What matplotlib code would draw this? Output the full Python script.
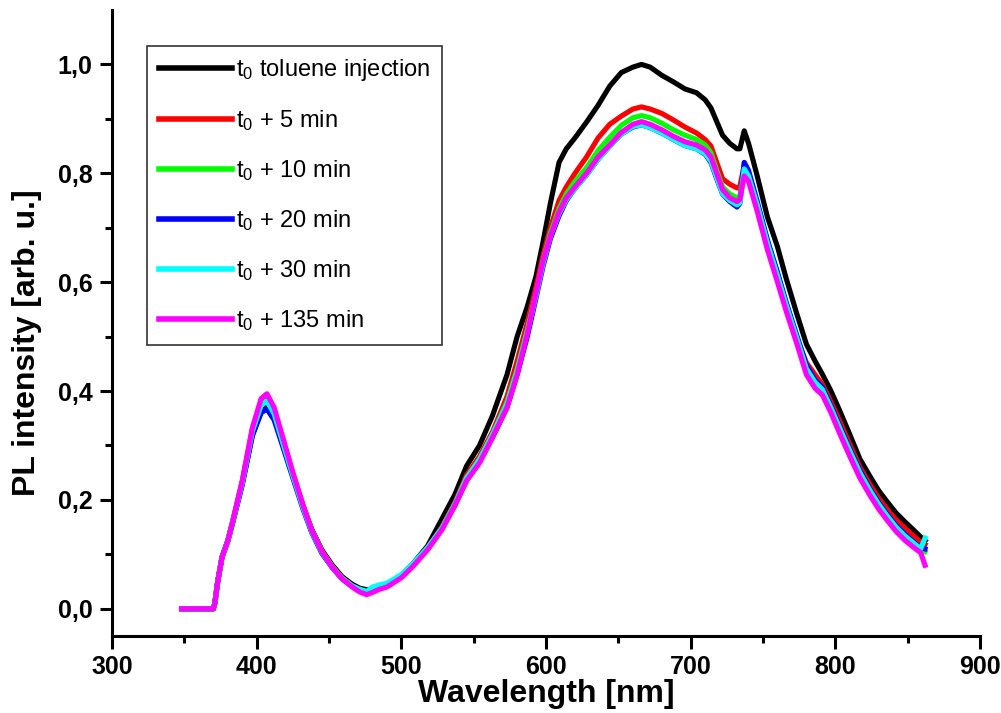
import numpy as np
import matplotlib
matplotlib.use('Agg')
import matplotlib.pyplot as plt

plt.rcParams['font.family'] = ['Liberation Sans', 'DejaVu Sans']
plt.rcParams['mathtext.default'] = 'regular'

# длины волн, нм
wl = [348, 370, 371, 373, 376, 380, 383, 390, 397, 403,
      407, 412, 418, 425, 432, 438, 445, 452, 459, 466,
      471, 476, 480, 485, 490, 500, 508, 518, 528, 537,
      545, 554, 563, 573, 580, 587, 593, 598, 603, 609,
      614, 620, 628, 636, 644, 652, 660, 666, 672, 680,
      688, 696, 704, 710, 714, 718, 722, 727, 732, 734,
      737, 740, 746, 753, 760, 766, 773, 780, 786, 791,
      797, 803, 810, 817, 824, 830, 836, 842, 848, 854,
      859, 862]

# t0 toluene injection
pl_t0 = [0, 0, 0.01, 0.05, 0.095, 0.125, 0.155, 0.23, 0.32, 0.362,
         0.37, 0.352, 0.305, 0.245, 0.188, 0.146, 0.108, 0.081, 0.059, 0.045,
         0.038, 0.035, 0.036, 0.04, 0.045, 0.062, 0.083, 0.115, 0.165, 0.21,
         0.262, 0.30, 0.355, 0.43, 0.50, 0.555, 0.61, 0.675, 0.745, 0.82,
         0.845, 0.865, 0.894, 0.925, 0.96, 0.985, 0.995, 1.0, 0.995, 0.98,
         0.968, 0.955, 0.948, 0.935, 0.92, 0.895, 0.87, 0.855, 0.845, 0.845,
         0.878, 0.855, 0.795, 0.72, 0.665, 0.607, 0.545, 0.486, 0.455, 0.431,
         0.40, 0.364, 0.32, 0.275, 0.243, 0.217, 0.196, 0.176, 0.16, 0.145,
         0.132, 0.125]

# t0 + 5 min
pl_5 = [0, 0, 0.01, 0.05, 0.095, 0.125, 0.156, 0.234, 0.33, 0.378,
        0.386, 0.362, 0.31, 0.248, 0.19, 0.145, 0.106, 0.079, 0.057, 0.042,
        0.034, 0.03, 0.033, 0.038, 0.042, 0.06, 0.08, 0.111, 0.15, 0.195,
        0.245, 0.28, 0.325, 0.39, 0.455, 0.525, 0.59, 0.65, 0.70, 0.75,
        0.775, 0.80, 0.83, 0.865, 0.89, 0.905, 0.918, 0.922, 0.918, 0.91,
        0.898, 0.885, 0.874, 0.862, 0.85, 0.82, 0.79, 0.78, 0.773, 0.776,
        0.815, 0.80, 0.742, 0.675, 0.615, 0.56, 0.50, 0.452, 0.43, 0.412,
        0.38, 0.345, 0.302, 0.26, 0.228, 0.203, 0.182, 0.163, 0.148, 0.134,
        0.122, 0.118]

# t0 + 10 min
pl_10 = [0, 0, 0.01, 0.05, 0.095, 0.125, 0.156, 0.233, 0.328, 0.375,
         0.382, 0.358, 0.306, 0.245, 0.188, 0.144, 0.105, 0.078, 0.056, 0.041,
         0.033, 0.029, 0.033, 0.039, 0.043, 0.06, 0.08, 0.11, 0.148, 0.193,
         0.24, 0.275, 0.32, 0.38, 0.44, 0.512, 0.578, 0.64, 0.69, 0.735,
         0.762, 0.785, 0.81, 0.842, 0.866, 0.888, 0.902, 0.906, 0.902, 0.892,
         0.88, 0.87, 0.862, 0.852, 0.838, 0.805, 0.775, 0.762, 0.755, 0.758,
         0.805, 0.79, 0.735, 0.665, 0.605, 0.552, 0.495, 0.437, 0.412, 0.40,
         0.368, 0.33, 0.288, 0.248, 0.215, 0.19, 0.168, 0.148, 0.132, 0.119,
         0.109, 0.105]

# t0 + 20 min
pl_20 = [0, 0, 0.01, 0.05, 0.095, 0.125, 0.155, 0.228, 0.318, 0.36,
         0.367, 0.347, 0.298, 0.24, 0.183, 0.14, 0.102, 0.076, 0.055, 0.041,
         0.033, 0.028, 0.032, 0.038, 0.043, 0.06, 0.08, 0.11, 0.147, 0.19,
         0.236, 0.27, 0.315, 0.37, 0.43, 0.50, 0.57, 0.63, 0.68, 0.722,
         0.75, 0.772, 0.797, 0.826, 0.85, 0.872, 0.885, 0.889, 0.884, 0.874,
         0.862, 0.851, 0.845, 0.835, 0.82, 0.79, 0.762, 0.748, 0.738, 0.745,
         0.82, 0.805, 0.748, 0.678, 0.618, 0.563, 0.505, 0.447, 0.42, 0.407,
         0.373, 0.336, 0.294, 0.254, 0.22, 0.195, 0.173, 0.153, 0.137, 0.123,
         0.112, 0.11]

# t0 + 30 min
pl_30 = [0, 0, 0.01, 0.05, 0.095, 0.125, 0.156, 0.232, 0.326, 0.374,
         0.382, 0.358, 0.305, 0.244, 0.186, 0.142, 0.104, 0.077, 0.056, 0.042,
         0.036, 0.032, 0.04, 0.044, 0.047, 0.063, 0.083, 0.112, 0.148, 0.192,
         0.24, 0.274, 0.32, 0.376, 0.436, 0.508, 0.575, 0.635, 0.685, 0.726,
         0.752, 0.772, 0.797, 0.826, 0.85, 0.872, 0.886, 0.889, 0.884, 0.874,
         0.862, 0.851, 0.845, 0.836, 0.822, 0.792, 0.763, 0.75, 0.742, 0.746,
         0.808, 0.795, 0.742, 0.672, 0.612, 0.558, 0.5, 0.441, 0.416, 0.403,
         0.369, 0.332, 0.29, 0.25, 0.217, 0.192, 0.17, 0.15, 0.134, 0.121,
         0.11, 0.13]

# t0 + 135 min
pl_135 = [0, 0, 0.01, 0.05, 0.095, 0.125, 0.157, 0.236, 0.333, 0.386,
          0.395, 0.37, 0.315, 0.25, 0.19, 0.144, 0.105, 0.077, 0.055, 0.040,
          0.031, 0.026, 0.030, 0.036, 0.040, 0.057, 0.078, 0.108, 0.145, 0.19,
          0.235, 0.268, 0.315, 0.37, 0.43, 0.505, 0.58, 0.64, 0.685, 0.729,
          0.755, 0.775, 0.80, 0.83, 0.852, 0.875, 0.89, 0.895, 0.89, 0.88,
          0.868, 0.858, 0.852, 0.843, 0.83, 0.80, 0.77, 0.755, 0.748, 0.752,
          0.795, 0.785, 0.73, 0.66, 0.60, 0.547, 0.49, 0.43, 0.405, 0.393,
          0.36, 0.322, 0.28, 0.24, 0.208, 0.183, 0.162, 0.142, 0.126, 0.113,
          0.103, 0.08]

labels = ['$t_0$ toluene injection', '$t_0$ + 5 min', '$t_0$ + 10 min',
          '$t_0$ + 20 min', '$t_0$ + 30 min', '$t_0$ + 135 min']
colors = ['black', '#ff0000', '#00ff00', '#0000ff', '#00ffff', '#ff00ff']
series = [pl_t0, pl_5, pl_10, pl_20, pl_30, pl_135]

fig = plt.figure(figsize=(10.01, 7.13), dpi=100)
ax = fig.add_axes([0.112, 0.108, 0.867, 0.878])

for y, c, lab in zip(series, colors, labels):
    ax.plot(wl, y, color=c, lw=3.7, label=lab)

ax.set_xlim(300, 900)
ax.set_ylim(-0.05, 1.1)
ax.set_xticks(np.arange(300, 901, 100))
ax.set_xticks(np.arange(350, 900, 100), minor=True)
ax.set_yticks(np.arange(0, 1.01, 0.2))
ax.set_yticks(np.arange(0.1, 1.1, 0.2), minor=True)
ax.set_yticklabels([f'{v:.1f}'.replace('.', ',') for v in np.arange(0, 1.01, 0.2)])

for s in ['top', 'right']:
    ax.spines[s].set_visible(False)
for s in ['left', 'bottom']:
    ax.spines[s].set_linewidth(2.2)

ax.tick_params(which='major', direction='out', length=9, width=2.2, pad=5,
               labelsize=18)
ax.tick_params(which='minor', direction='out', length=5, width=2.2)
for t in ax.get_xticklabels() + ax.get_yticklabels():
    t.set_fontweight('bold')

ax.set_xlabel('Wavelength [nm]', fontsize=23, fontweight='bold', labelpad=0)
ax.set_ylabel('PL intensity [arb. u.]', fontsize=23, fontweight='bold')
ax.yaxis.set_label_coords(-0.081, 0.468)

leg = ax.legend(loc='upper left', bbox_to_anchor=(0.04, 0.943), borderaxespad=0,
                fontsize=17, handlelength=3.1, handletextpad=0.17, labelspacing=1.06,
                fancybox=False, frameon=True, borderpad=0.5)
leg.get_frame().set_edgecolor('black')
leg.get_frame().set_linewidth(1.2)
for line in leg.get_lines():
    line.set_linewidth(4)

fig.savefig('out.png', dpi=100)
